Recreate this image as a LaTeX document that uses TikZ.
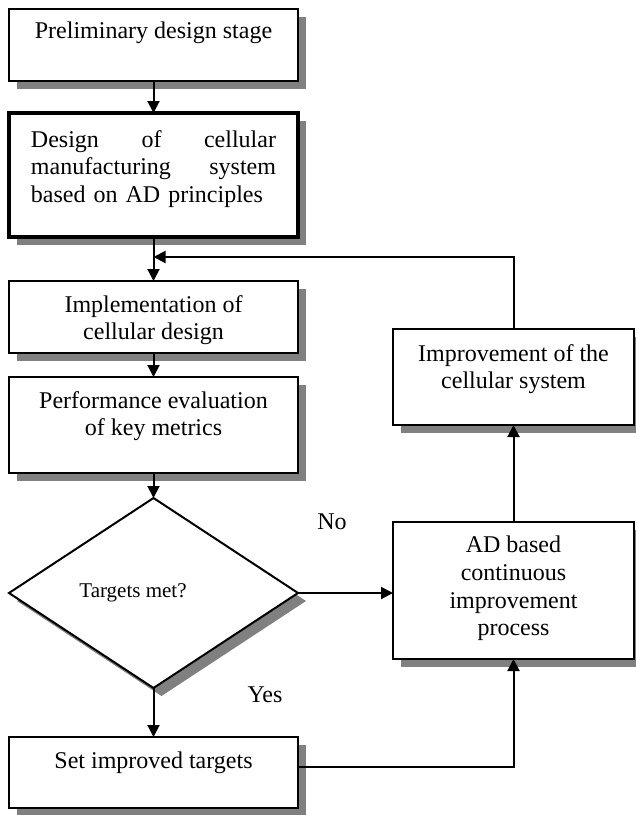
\documentclass[tikz,border=0pt]{standalone}
\usepackage{fontspec}
\setmainfont{Liberation Serif}
\usetikzlibrary{shapes.geometric,shadows,arrows.meta}

\begin{document}
\begin{tikzpicture}[x=0.5pt, y=-0.5pt,
  every node/.style={font=\fontsize{12}{13.8}\selectfont, inner sep=0pt, outer sep=0pt},
  shade box/.style={drop shadow={opacity=1, fill=gray, shadow xshift=4pt, shadow yshift=-4pt}},
  box/.style={draw, line width=1pt, fill=white, minimum width=144.5pt, shade box},
  sidebox/.style={box, minimum width=120.5pt},
  decision/.style={diamond, draw, line width=1pt, fill=white, aspect=1.52, minimum width=144.5pt, minimum height=95pt, shade box},
  txt/.style={align=center},
  link/.style={line width=1pt, -{Triangle[length=6pt, width=6pt]}}]

\useasboundingbox (0,0) rectangle (636,815);

\node[box, minimum height=36pt] (prelim) at (153.5,45) {};
\node[box, minimum height=62pt, line width=2pt] (design) at (153.5,175) {};
\node[box, minimum height=36pt] (implement) at (153.5,317) {};
\node[box, minimum height=48pt] (evaluate) at (153.5,425) {};
\node[decision] (check) at (153.5,593) {};
\node[box, minimum height=35.5pt] (settarget) at (153.5,772.5) {};
\node[sidebox, minimum height=48pt] (improve) at (513.5,377) {};
\node[sidebox, minimum height=68.5pt] (adproc) at (513.5,590.5) {};

\node[txt] (prelimtxt) at (153.5,33) {Preliminary design stage};
\node[txt, text width=122.5pt, align=left] (designtxt) at (153.5,169) {Design \hfill of \hfill cellular\\manufacturing \hfill system\\based on AD principles};
\node[txt] (implementtxt) at (153.5,320) {Implementation of\\cellular design};
\node[txt] (evaluatetxt) at (153.5,416) {Performance evaluation\\of key metrics};
\node[txt, font=\fontsize{10.5}{12}\selectfont] (checktxt) at (133,593) {Targets met?};
\node[txt] (settargettxt) at (153.5,763) {Set improved targets};
\node[txt] (improvetxt) at (513.5,369) {Improvement of the\\cellular system};
\node[txt] (adproctxt) at (513.5,588.5) {AD based\\continuous\\improvement\\process};

\node (no) at (332,522) {No};
\node (yes) at (265,695) {Yes};

\coordinate (merge) at (153.5,257);

\draw[link] (prelim) -- (design);
\draw[link] (design) -- (implement);
\draw[link] (implement) -- (evaluate);
\draw[link] (evaluate) -- (check);
\draw[link] (check) -- (settarget);
\draw[link] (check.east) -- (check.east -| adproc.west);
\draw[link] ([yshift=2.75pt]settarget.east) -| (adproc.south);
\draw[link] (adproc) -- (improve);
\draw[link] (improve.north) |- (merge);
\end{tikzpicture}
\end{document}
